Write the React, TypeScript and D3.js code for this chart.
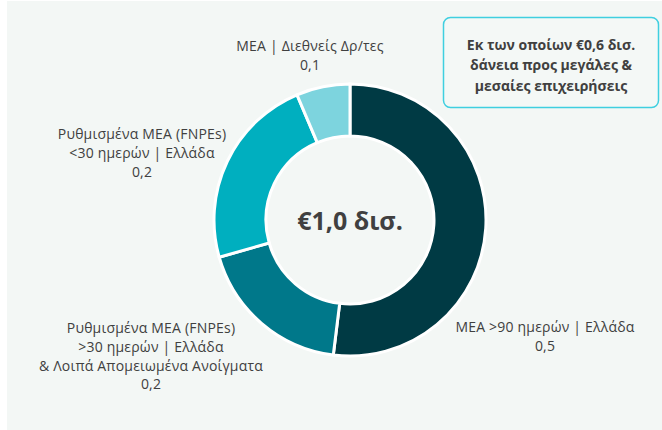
import React from 'react';
import * as d3 from 'd3';

const width = 662;
const height = 430;

// slices, clockwise from 12 o'clock
const categories = [
  ['ΜΕΑ >90 ημερών | Ελλάδα'],
  ['Ρυθμισμένα ΜΕΑ (FNPEs)', '>30 ημερών | Ελλάδα', '& Λοιπά Απομειωμένα Ανοίγματα'],
  ['Ρυθμισμένα ΜΕΑ (FNPEs)', '<30 ημερών | Ελλάδα'],
  ['ΜΕΑ | Διεθνείς Δρ/τες'],
];
const values = [0.53, 0.19, 0.235, 0.065];
const colors = ['#003a44', '#00788a', '#00afbf', '#7dd4de'];

const totalLabel = '€1,0 δισ.';
const noteLines = ['Εκ των οποίων €0,6 δισ.', 'δάνεια προς μεγάλες &', 'μεσαίες επιχειρήσεις'];

// label anchor (centre of the first line) for each slice
const labelAnchors: [number, number][] = [
  [545, 327],
  [151, 328],
  [142, 134],
  [310, 46],
];

const fmt = (v: number) => d3.format('.1f')(v).replace('.', ',');

export default function App() {
  const cx = 350;
  const cy = 220;
  const outerR = 136;
  const innerR = 84;
  const lineH = 18.8;

  const pie = d3.pie<number>().sort(null).value((d) => d);
  const arcs = pie(values);
  const arc = d3.arc<d3.PieArcDatum<number>>().innerRadius(innerR).outerRadius(outerR);

  const font = '"Open Sans", "Noto Sans", sans-serif';

  return (
    <svg
      width={width}
      height={height}
      style={{ position: 'absolute', left: 0, top: 0, fontFamily: font }}
    >
      <rect x={7} y={1} width={width - 7} height={height - 1} fill="#f3f7f5" />
      <g transform={`translate(${cx},${cy})`}>
        {arcs.map((a, i) => (
          <path key={i} d={arc(a) ?? ''} fill={colors[i]} stroke="#ffffff" strokeWidth={3} />
        ))}
        <text
          y={1}
          dy="0.35em"
          textAnchor="middle"
          fontSize={25}
          fontWeight={700}
          fill="#404040"
        >
          {totalLabel}
        </text>
      </g>

      {categories.map((lines, i) => {
        const [lx, ly] = labelAnchors[i];
        const all = [...lines, fmt(values[i])];
        return (
          <text key={i} textAnchor="middle" fontSize={14} letterSpacing={0.2} fill="#404040">
            {all.map((t, j) => (
              <tspan key={j} x={lx} y={ly + j * lineH} dy="0.35em">
                {t}
              </tspan>
            ))}
          </text>
        );
      })}

      <rect
        x={443.5}
        y={17.5}
        width={215}
        height={90}
        rx={7}
        fill="#f4f8f6"
        stroke="#3fcfe0"
        strokeWidth={1.5}
      />
      <text textAnchor="middle" fontSize={14} fontWeight={700} fill="#404040">
        {noteLines.map((t, j) => (
          <tspan key={j} x={551} y={45 + j * 20.5} dy="0.35em">
            {t}
          </tspan>
        ))}
      </text>
    </svg>
  );
}
